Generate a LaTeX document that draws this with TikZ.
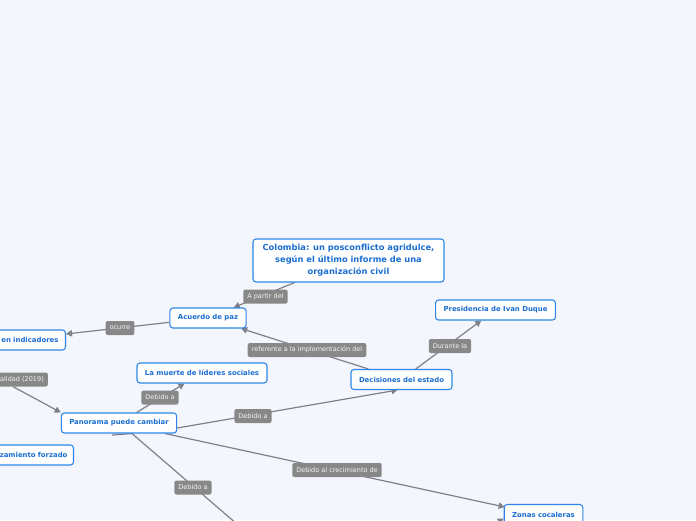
\documentclass[tikz,border=0pt]{standalone}
\usepackage{fontspec}
\setmainfont{DejaVu Sans}
\usetikzlibrary{arrows.meta,calc,backgrounds}
\definecolor{bgpaper}{RGB}{243,246,253}
\definecolor{topicline}{RGB}{47,134,230}
\definecolor{topictext}{RGB}{26,110,210}
\definecolor{tagfill}{RGB}{136,136,136}
\definecolor{linkgray}{RGB}{128,128,136}

\begin{document}
\begin{tikzpicture}[x=1pt,y=-1pt,>={Triangle[length=6pt,width=6.5pt]}]
\tikzstyle{topic}=[draw=topicline,fill=white,line width=1.1pt,rounded corners=3pt,text=topictext,font=\fontsize{6.9}{9}\selectfont\bfseries,inner xsep=8pt,inner ysep=0pt,minimum height=20pt]
\tikzstyle{tag}=[fill=tagfill,rounded corners=2pt,text=white!92!gray,font=\fontsize{6.5}{8}\selectfont,inner xsep=4pt,inner ysep=0pt,minimum height=14pt]
\tikzstyle{link}=[linkgray,line width=1.2pt]
\useasboundingbox (0,0) rectangle (696,520);
% central topic
\node[topic,align=center,font=\fontsize{8.3}{12}\selectfont\bfseries,minimum width=191pt,minimum height=43pt] (title) at (348.5,260.5) {Colombia: un posconflicto agridulce,\\según el último informe de una\\organización civil};
\node[topic] (acuerdo) at (208,318) {Acuerdo de paz};
\node[topic,text width=92pt,align=right,anchor=east,inner xsep=7pt] (indic) at (66,340) {en indicadores};
\node[topic] (dec) at (401.5,379.5) {Decisiones del estado};
\node[topic] (pres) at (495.5,310) {Presidencia de Ivan Duque};
\node[topic] (muerte) at (202,373) {La muerte de líderes sociales};
\node[topic] (pan) at (119,423) {Panorama puede cambiar};
\node[topic,text width=102pt,align=right,anchor=east,inner xsep=6pt] (forz) at (74,455) {zamiento forzado};
\node[topic] (zonas) at (543.5,514.5) {Zonas cocaleras};
\node[tag,text width=88pt,align=right,anchor=east] (crim) at (48,379.5) {alidad (2019)};
% link labels
\node[tag] (apartir) at (265.5,296.5) {A partir del};
\node[tag] (ocurre) at (120,328) {ocurre};
\node[tag] (referente) at (307,350) {referente a la implementación del};
\node[tag] (durante) at (450,346) {Durante la};
\node[tag] (debidoA) at (160,397.5) {Debido a};
\node[tag] (debidoB) at (253,416) {Debido a};
\node[tag] (crecim) at (337,470) {Debido al crecimiento de};
\node[tag] (debidoC) at (193,487.5) {Debido a};
\coordinate (fuera) at (245,531);
\coordinate (fuera2) at (480,532);
\begin{scope}[on background layer]
\fill[bgpaper] (0,0) rectangle (696,520);
\draw[link,->] (title) -- (acuerdo);
\draw[link,->] (acuerdo) -- (indic);
\draw[link,->] (dec) -- (acuerdo);
\draw[link,->] (dec) -- (pres);
\draw[link,->] (pan) -- (muerte);
\draw[link,->] (crim) -- (pan.north west);
\draw[link,->] ($(pan.east)+(0,5)$) -- ($(dec.south)+(-4,0)$);
\draw[link,->] ($(pan.south)+(46,0)$) -- ($(zonas.north west)+(1,3)$);
\draw[link] ($(pan.south)+(-7,1.5)$) -- ($(pan.south)+(13,0)$) -- (fuera);
\draw[link,->] (fuera2) -- ($(zonas.west)+(0,4)$);
\end{scope}
\end{tikzpicture}
\end{document}
